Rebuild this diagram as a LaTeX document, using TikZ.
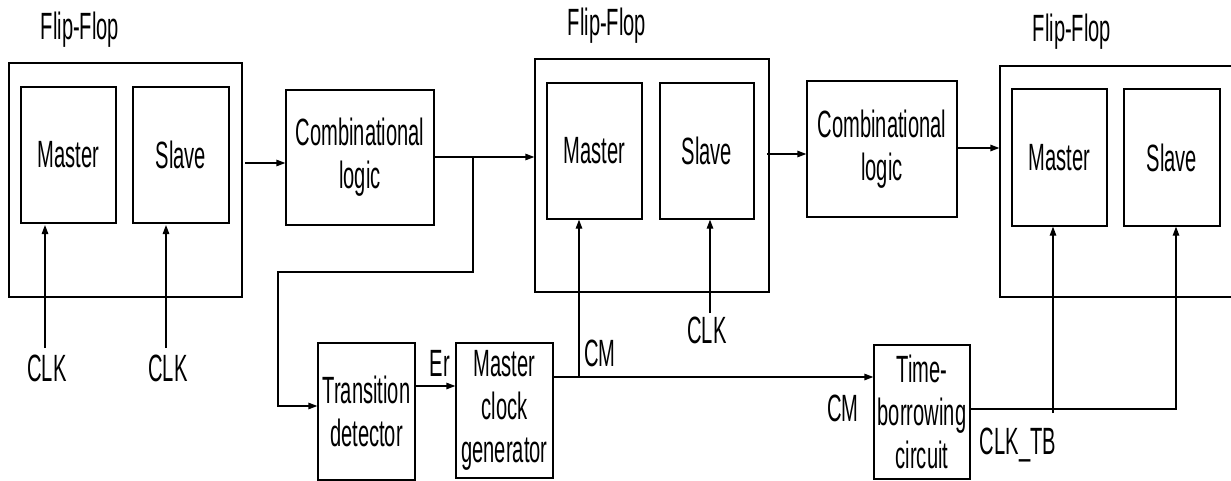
\documentclass[tikz,border=0pt]{standalone}
\usepackage{fontspec}
\setmainfont{Liberation Sans}[FakeStretch=0.53]
\usetikzlibrary{arrows.meta}
\tikzset{blk/.style={draw, inner sep=0pt, align=center},
  sig/.style={-{Triangle[length=9pt,width=6.5pt]}},
  lbl/.style={inner sep=0pt}}

\begin{document}
\begin{tikzpicture}[x=1pt,y=-1pt,line width=1.3pt,font=\fontsize{38}{43}\selectfont]
  \clip (0,0) rectangle (1231,481);
  % flip-flops
  \node[blk,minimum width=233,minimum height=234] (ff1) at (125.5,180) {};
  \node[blk,minimum width=95,minimum height=136] (m1) at (68.5,155) {Master};
  \node[blk,minimum width=96,minimum height=136] (s1) at (181,155) {Slave};
  \node[lbl] (ffl1) at (80,30) {Flip-Flop};
  \node[blk,minimum width=234,minimum height=233] (ff2) at (652,175.5) {};
  \node[blk,minimum width=95,minimum height=136] (m2) at (594.5,151) {Master};
  \node[blk,minimum width=94,minimum height=136] (s2) at (707,151) {Slave};
  \node[lbl] (ffl2) at (607,26) {Flip-Flop};
  \node[blk,minimum width=260,minimum height=231] (ff3) at (1130,181.5) {};
  \node[blk,minimum width=95,minimum height=137] (m3) at (1059.5,157.5) {Master};
  \node[blk,minimum width=96,minimum height=137] (s3) at (1172,157.5) {Slave};
  \node[lbl] (ffl3) at (1072,32) {Flip-Flop};
  % logic and clock blocks
  \node[blk,minimum width=148,minimum height=135] (cl1) at (360,157.5) {Combinational\\logic};
  \node[blk,minimum width=150,minimum height=136] (cl2) at (882,149) {Combinational\\logic};
  \node[blk,minimum width=97,minimum height=137] (td) at (366.5,411.5) {Transition\\detector};
  \node[blk,minimum width=97,minimum height=135] (mcg) at (504.5,410.5) {Master\\clock\\generator};
  \node[blk,minimum width=96,minimum height=134] (tb) at (922,412) {Time-\\borrowing\\circuit};
  % labels
  \node[lbl] (clka) at (47,368) {CLK};
  \node[lbl] (clkb) at (168,368) {CLK};
  \node[lbl] (clkc) at (707,330) {CLK};
  \node[lbl] (er) at (440,363) {Er};
  \node[lbl] (cma) at (600,353) {CM};
  \node[lbl] (cmb) at (843,408) {CM};
  \node[lbl] (clktb) at (1018,445) {CLK\_TB};
  \coordinate (j1) at (473,157);
  \coordinate (j2) at (579,377);
  \coordinate (j3) at (1053,409);
  \coordinate (k3) at (1176,409);
  % data path
  \draw[sig] (245,163) -- (cl1.west |- 0,163);
  \draw[sig] (cl1.east |- j1) -- (ff2.west |- j1);
  \draw[sig] (j1) -- (473,272) -- (278,272) -- (278,406) -- (td.west |- 0,406);
  \draw[sig] (767,154) -- (cl2.west |- 0,154);
  \draw[sig] (cl2.east |- 0,148) -- (ff3.west |- 0,148);
  % clocks
  \draw[sig] (45,348) -- (45,225);
  \draw[sig] (166,348) -- (166,225);
  \draw[sig] (710,313) -- (710,0 |- s2.south);
  \draw[sig] (td.east |- 0,386) -- (mcg.west |- 0,386);
  \draw[sig] (mcg.east |- j2) -- (tb.west |- j2);
  \draw[sig] (j2) -- (j2 |- m2.south);
  \draw[sig] (tb.east |- j3) -- (k3) -- (k3 |- s3.south);
  \draw[sig] ([yshift=-4pt]j3) -- (j3 |- m3.south);
\end{tikzpicture}
\end{document}
